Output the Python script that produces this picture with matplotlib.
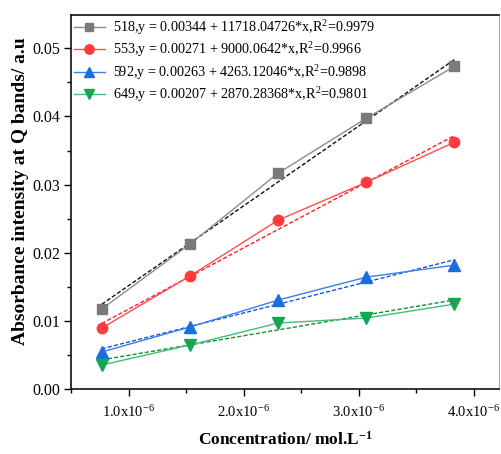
import matplotlib
matplotlib.use("Agg")
import matplotlib.pyplot as plt
import numpy as np
from matplotlib.ticker import MultipleLocator, FuncFormatter

plt.rcParams['font.family'] = ['Liberation Serif', 'DejaVu Serif']
plt.rcParams['mathtext.fontset'] = 'custom'
plt.rcParams['mathtext.rm'] = 'Liberation Serif'
plt.rcParams['mathtext.it'] = 'Liberation Serif:italic'
plt.rcParams['mathtext.bf'] = 'Liberation Serif:bold'

conc = [0.767e-6, 1.533e-6, 2.30e-6, 3.067e-6, 3.833e-6]
series_names = ['518', '553', '592', '649']
absorb_518 = [0.01173, 0.02126, 0.03167, 0.03974, 0.04736]
absorb_553 = [0.00894, 0.01657, 0.02478, 0.03035, 0.03622]
absorb_592 = [0.00543, 0.00909, 0.01305, 0.01642, 0.01818]
absorb_649 = [0.00352, 0.00645, 0.00968, 0.01041, 0.01246]
intercepts = [0.00344, 0.00271, 0.00263, 0.00207]
slopes = [11718.04726, 9000.0642, 4263.12046, 2870.28368]
r2 = ['0.9979', '0.9966', '0.9898', '0.9801']
xtick_vals = [1.0e-6, 2.0e-6, 3.0e-6, 4.0e-6]
xtick_labels = [r'1.0x10$^{-6}$', r'2.0x10$^{-6}$', r'3.0x10$^{-6}$', r'4.0x10$^{-6}$']

data = [absorb_518, absorb_553, absorb_592, absorb_649]
markers = ['s', 'o', '^', 'v']
msizes = [7, 7.5, 8, 8]
mcolors = ['#7a7a7a', '#ff3b3b', '#1a6fe0', '#16a552']
lcolors = ['#8c8c8c', '#ff4d4d', '#3a80e8', '#3cbf7a']
fcolors = ['#111111', '#ff2020', '#1a55e0', '#1b8a3a']

fig = plt.figure(figsize=(5.01, 4.54), dpi=100)
ax = fig.add_axes([0.1417, 0.1432, 0.8543, 0.8238])

x = np.array(conc)
for i in range(4):
    label = f"{series_names[i]},y = {intercepts[i]} + {slopes[i]}*x,R$^{{2}}$={r2[i]}"
    ax.plot(x, data[i], color=lcolors[i], lw=1.0, marker=markers[i],
            markersize=msizes[i], markerfacecolor=mcolors[i], markeredgecolor=mcolors[i],
            label=label, zorder=3)
    xf = np.array([x[0], x[-1]])
    ax.plot(xf, intercepts[i] + slopes[i] * xf, color=fcolors[i], lw=1.0,
            ls=(0, (3, 1.5)), zorder=2)

ax.set_xlim(0.5e-6, 4.22e-6)
ax.set_ylim(0.0, 0.0549)
ax.set_xticks(xtick_vals)
ax.set_xticklabels(xtick_labels)
ax.xaxis.set_minor_locator(MultipleLocator(0.5e-6))
ax.yaxis.set_major_locator(MultipleLocator(0.01))
ax.yaxis.set_minor_locator(MultipleLocator(0.005))
ax.yaxis.set_major_formatter(FuncFormatter(lambda v, p: f"{v:.2f}"))
ax.tick_params(which='major', direction='out', length=5, width=1)
ax.tick_params(which='minor', direction='out', length=3, width=1)
ax.tick_params(axis='x', pad=6, labelsize=10.5)
ax.tick_params(axis='y', labelsize=11.5, pad=3)

for s in ['left', 'bottom', 'top']:
    ax.spines[s].set_linewidth(1.2)
    ax.spines[s].set_color('#111111')
ax.spines['right'].set_linewidth(0.8)
ax.spines['right'].set_color('#aaaaaa')

ax.set_xlabel(r'Concentration/ mol.L$^{\mathbf{-1}}$', fontsize=12.5, fontweight='bold', labelpad=8)
ax.set_ylabel('Absorbance intensity at Q bands/ a.u', fontsize=14, fontweight='bold')
ax.yaxis.set_label_coords(-0.098, 0.53)

leg = ax.legend(loc='upper left', frameon=False, fontsize=10.2, handlelength=2.2,
                handletextpad=0.6, borderaxespad=0.05, labelspacing=0.25,
                borderpad=0.15, markerscale=0.9)

fig.savefig('out.png', dpi=100)
